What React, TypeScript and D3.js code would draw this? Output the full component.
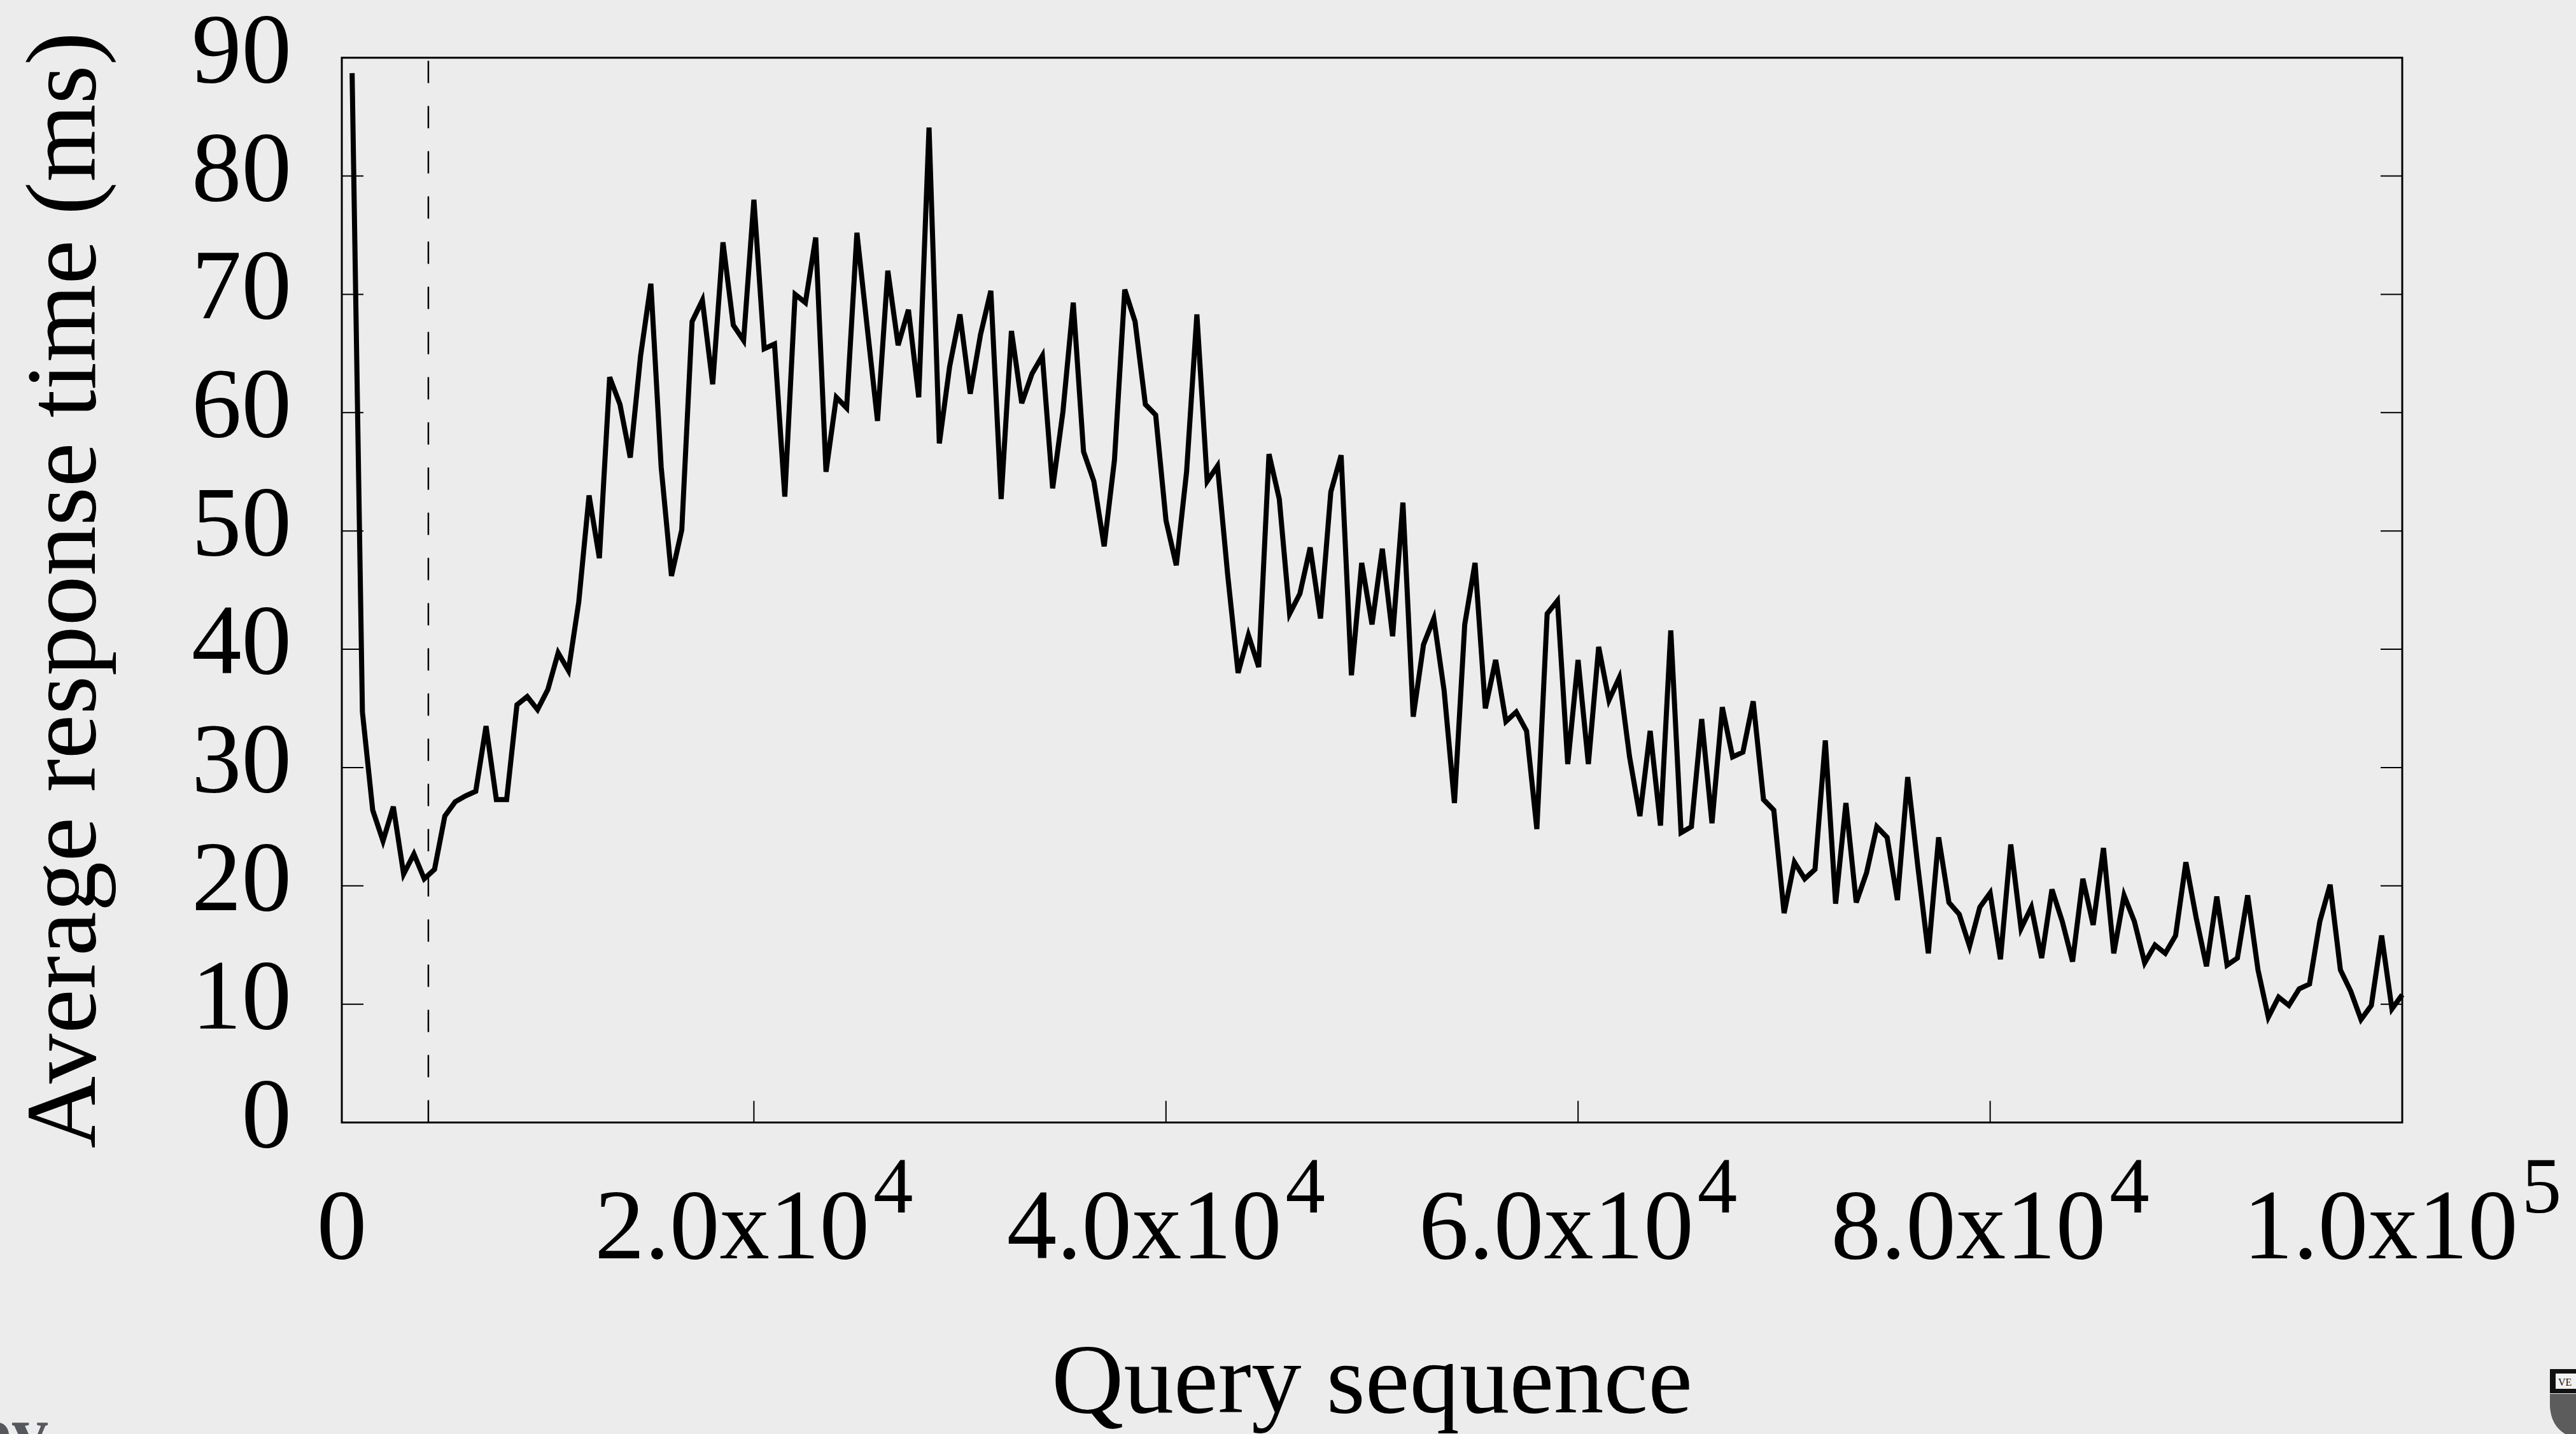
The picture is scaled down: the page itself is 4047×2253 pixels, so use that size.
import { useEffect, useRef } from 'react';
import * as d3 from 'd3';

const WIDTH = 4047;
const HEIGHT = 2253;

// average response time (ms), one sample per 500 queries
const responseMs = [
  88.7, 34.7, 26.4, 23.8, 26.7, 21.0, 22.7, 20.6, 21.4, 25.9,
  27.1, 27.6, 28.0, 33.5, 27.3, 27.3, 35.3, 36.0, 34.9, 36.6,
  39.7, 38.2, 44.0, 53.0, 47.7, 63.0, 60.7, 56.2, 64.8, 70.9,
  55.4, 46.2, 50.1, 67.7, 69.5, 62.4, 74.4, 67.4, 66.1, 78.0,
  65.4, 65.8, 52.9, 70.0, 69.3, 74.8, 55.0, 61.3, 60.4, 75.2,
  67.2, 59.3, 72.0, 65.7, 68.7, 61.3, 84.1, 57.4, 63.9, 68.3,
  61.6, 66.6, 70.3, 52.7, 66.9, 60.8, 63.3, 64.8, 53.6, 60.1,
  69.3, 56.7, 54.2, 48.7, 56.0, 70.4, 67.7, 60.7, 59.8, 50.9,
  47.1, 55.0, 68.3, 54.2, 55.5, 46.2, 38.0, 41.2, 38.5, 56.5,
  52.7, 43.0, 44.7, 48.6, 42.6, 53.3, 56.4, 37.8, 47.3, 42.1,
  48.5, 41.1, 52.4, 34.3, 40.4, 42.6, 36.5, 27.0, 42.1, 47.3,
  35.0, 39.1, 33.9, 34.7, 33.1, 24.8, 43.0, 44.1, 30.3, 39.1,
  30.3, 40.2, 35.7, 37.6, 30.9, 25.9, 33.1, 25.1, 41.6, 24.5,
  25.0, 34.1, 25.3, 35.1, 30.9, 31.3, 35.6, 27.3, 26.4, 17.7,
  22.0, 20.6, 21.4, 32.3, 18.5, 27.0, 18.6, 21.1, 25.0, 24.1,
  18.8, 29.2, 21.5, 14.3, 24.1, 18.6, 17.6, 14.9, 18.2, 19.4,
  13.8, 23.5, 16.4, 18.2, 13.9, 19.7, 17.0, 13.6, 20.6, 16.7,
  23.2, 14.3, 19.2, 17.0, 13.5, 15.0, 14.3, 15.8, 22.0, 17.3,
  13.2, 19.1, 13.3, 13.9, 19.2, 12.9, 8.9, 10.6, 9.9, 11.3,
  11.7, 17.0, 20.1, 12.9, 11.1, 8.7, 9.9, 15.8, 9.6, 10.8,
];
const queryStep = 500;
const querySeq = responseMs.map((_, i) => (i + 1) * queryStep);

const yTicks = [0, 10, 20, 30, 40, 50, 60, 70, 80, 90];
const xTicks = [0, 20000, 40000, 60000, 80000, 100000];
const xTickMantissa = ['0', '2.0x10', '4.0x10', '6.0x10', '8.0x10', '1.0x10'];
const xTickExp = ['', '4', '4', '4', '4', '5'];
const warmupQuery = 4200;

const FONT = '"Liberation Serif", "Times New Roman", serif';

export default function App() {
  const ref = useRef<SVGSVGElement>(null);

  useEffect(() => {
    if (!ref.current) return;
    const svg = d3.select(ref.current);
    svg.selectAll('*').remove();

    const margin = { top: 90.7, right: 273, bottom: 489.4, left: 537 };
    const w = WIDTH - margin.left - margin.right;
    const h = HEIGHT - margin.top - margin.bottom;

    svg.append('rect').attr('width', WIDTH).attr('height', HEIGHT).attr('fill', '#ececec');

    const x = d3.scaleLinear().domain([0, 100000]).range([margin.left, margin.left + w]);
    const y = d3.scaleLinear().domain([0, 90]).range([margin.top + h, margin.top]);

    // inward ticks, left + right for y, bottom only for x
    const tickLen = 34;
    const ticks = svg.append('g').attr('stroke', '#000').attr('stroke-width', 2);
    yTicks.slice(1, -1).forEach((t) => {
      ticks.append('line').attr('x1', x(0)).attr('x2', x(0) + tickLen).attr('y1', y(t)).attr('y2', y(t));
      ticks.append('line').attr('x1', x(100000)).attr('x2', x(100000) - tickLen).attr('y1', y(t)).attr('y2', y(t));
    });
    xTicks.slice(1, -1).forEach((t) => {
      ticks.append('line').attr('x1', x(t)).attr('x2', x(t)).attr('y1', y(0)).attr('y2', y(0) - tickLen);
    });

    // warm-up marker
    svg
      .append('line')
      .attr('x1', x(warmupQuery))
      .attr('x2', x(warmupQuery))
      .attr('y1', y(0))
      .attr('y2', y(90))
      .attr('stroke', '#000')
      .attr('stroke-width', 2.5)
      .attr('stroke-dasharray', '35,36');

    const line = d3
      .line<number>()
      .x((_, i) => x(querySeq[i]))
      .y((d) => y(d));

    svg
      .append('path')
      .attr('d', line(responseMs))
      .attr('fill', 'none')
      .attr('stroke', '#000')
      .attr('stroke-width', 8)
      .attr('stroke-linejoin', 'miter');

    // frame
    svg
      .append('rect')
      .attr('x', margin.left)
      .attr('y', margin.top)
      .attr('width', w)
      .attr('height', h)
      .attr('fill', 'none')
      .attr('stroke', '#000')
      .attr('stroke-width', 3);

    const labels = svg.append('g').attr('font-family', FONT).attr('fill', '#000');

    yTicks.forEach((t) => {
      labels
        .append('text')
        .attr('x', 458)
        .attr('y', y(t) + 38)
        .attr('text-anchor', 'end')
        .attr('font-size', 157)
        .text(t);
    });

    xTicks.forEach((t, i) => {
      const txt = labels
        .append('text')
        .attr('x', x(t))
        .attr('y', 1977)
        .attr('text-anchor', 'middle')
        .attr('font-size', 157);
      txt.append('tspan').text(xTickMantissa[i]);
      if (xTickExp[i]) {
        txt.append('tspan').attr('dx', 6).attr('dy', -72).attr('font-size', 125).text(xTickExp[i]);
      }
    });

    labels
      .append('text')
      .attr('x', x(50000))
      .attr('y', 2219)
      .attr('text-anchor', 'middle')
      .attr('font-size', 157)
      .text('Query sequence');

    labels
      .append('text')
      .attr('transform', `translate(149,${y(45)}) rotate(-90)`)
      .attr('text-anchor', 'middle')
      .attr('font-size', 157)
      .text('Average response time (ms)');

    // slide leftovers: cut-off footer text and crest
    svg
      .append('text')
      .attr('x', -37)
      .attr('y', 2287)
      .attr('font-family', FONT)
      .attr('font-weight', 'bold')
      .attr('font-size', 112)
      .attr('fill', '#55585d')
      .text('ov');

    const crest = svg.append('g');
    crest.append('rect').attr('x', 4006).attr('y', 2151).attr('width', 41).attr('height', 38).attr('fill', '#111');
    crest
      .append('path')
      .attr('d', 'M4006,2190 L4047,2190 L4047,2253 L4030,2253 Q4008,2240 4006,2210 Z')
      .attr('fill', '#5c5c5c');
    crest.append('rect').attr('x', 4015).attr('y', 2158).attr('width', 32).attr('height', 24).attr('fill', '#f2f2f2');
    crest
      .append('text')
      .attr('x', 4019)
      .attr('y', 2177)
      .attr('font-family', FONT)
      .attr('font-size', 16)
      .attr('fill', '#111')
      .text('VE');
  }, []);

  return (
    <svg
      ref={ref}
      width={WIDTH}
      height={HEIGHT}
      style={{ position: 'absolute', left: 0, top: 0, display: 'block' }}
      role="img"
      aria-label="Average response time over query sequence"
    />
  );
}
